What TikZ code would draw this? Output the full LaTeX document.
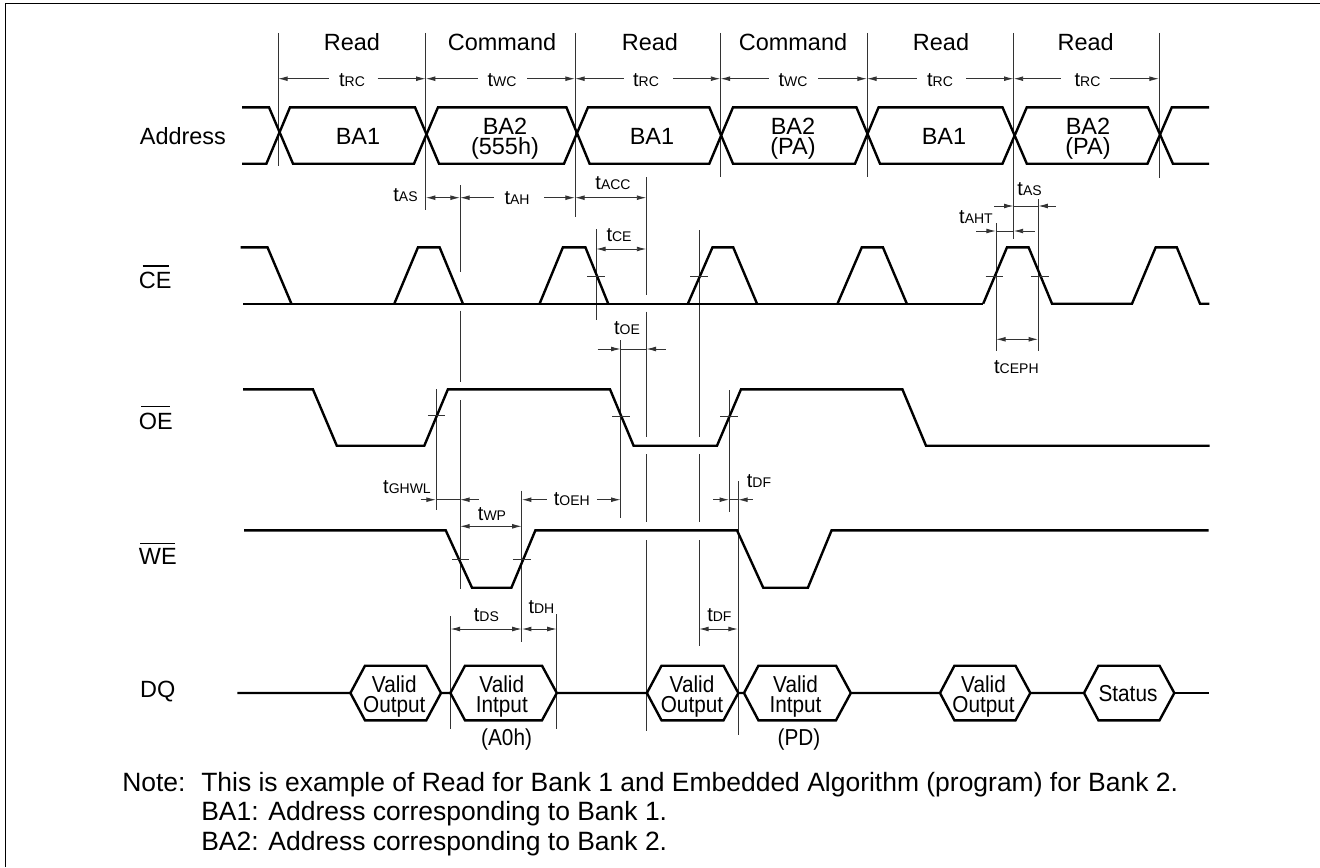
\documentclass[tikz,border=0pt]{standalone}
\usepackage{fontspec}
\setmainfont{Liberation Sans}
\newfontfamily\narrowsans[FakeStretch=0.9]{Liberation Sans}
\usetikzlibrary{arrows.meta}
\newcommand{\tlab}[1]{{\fontsize{15}{15}\selectfont t\fontsize{10.5}{10.5}\selectfont #1}}
\tikzset{
  wave/.style={draw=black,line width=1.8pt,line join=miter},
  guide/.style={draw=black!80,line width=0.7pt},
  tick/.style={draw=black!80,line width=0.7pt},
  span/.style={draw=black!80,line width=0.7pt,>={Latex[length=7.2pt,width=3.6pt]}},
  frameline/.style={draw=black,line width=1.1pt},
  big/.style={inner sep=0pt,font=\fontsize{17.6}{15}\selectfont,align=center},
  sig/.style={big,anchor=west},
  hex/.style={inner sep=0pt,font=\narrowsans\fontsize{17.3}{15}\selectfont,align=center},
  time/.style={inner sep=0pt},
  note/.style={inner sep=0pt,anchor=base west,font=\fontsize{19.85}{19.85}\selectfont},
}
\begin{document}
\begin{tikzpicture}[x=0.75pt,y=-0.75pt]
\useasboundingbox (0,0) rectangle (1320,867);
% frame
\draw[frameline] (5.5,867) -- (5.5,3.5) -- (1320,3.5);

% cycle boundaries
\draw[guide] (278,33) -- (278,165.7);
\draw[guide] (425.7,33) -- (425.7,210);
\draw[guide] (575,33) -- (575,216.7);
\draw[guide] (720.4,33) -- (720.4,176.7);
\draw[guide] (867,33) -- (867,176.7);
\draw[guide] (1013.6,33) -- (1013.6,238.7);
\draw[guide] (1159,33) -- (1159,177.7);

% cycle labels
\node[big] (rd1) at (352,41.7) {Read};
\node[big] (cmd1) at (502,41.7) {Command};
\node[big] (rd2) at (650,41.7) {Read};
\node[big] (cmd2) at (793,41.7) {Command};
\node[big] (rd3) at (941,41.7) {Read};
\node[big] (rd4) at (1085.7,41.7) {Read};

% cycle time spans
\draw[span,<-] (278,78.7) -- (329,78.7);   \draw[span,->] (377.5,78.7) -- (425.7,78.7);
\draw[span,<-] (425.7,78.7) -- (478,78.7); \draw[span,->] (527,78.7) -- (575,78.7);
\draw[span,<-] (575,78.7) -- (624,78.7);   \draw[span,->] (673,78.7) -- (720.4,78.7);
\draw[span,<-] (720.4,78.7) -- (769,78.7); \draw[span,->] (818,78.7) -- (867,78.7);
\draw[span,<-] (867,78.7) -- (917,78.7);   \draw[span,->] (966,78.7) -- (1013.6,78.7);
\draw[span,<-] (1013.6,78.7) -- (1061,78.7); \draw[span,->] (1110,78.7) -- (1159,78.7);
\node[time] (trc1) at (352,80) {\tlab{RC}};
\node[time] (twc1) at (502,80) {\tlab{WC}};
\node[time] (trc2) at (646,80) {\tlab{RC}};
\node[time] (twc2) at (793,80) {\tlab{WC}};
\node[time] (trc3) at (940,80) {\tlab{RC}};
\node[time] (trc4) at (1087.5,80) {\tlab{RC}};

% Address
\node[sig] (addr) at (139.6,136) {Address};
\draw[wave] (242,107.3) -- (269,107.3) -- (293,163.7) -- (414,163.7) -- (438,107.3) -- (566.4,107.3) -- (589.6,163.7) -- (709.3,163.7) -- (733,107.3) -- (856.4,107.3) -- (880,163.7) -- (1002.5,163.7) -- (1026.8,107.3) -- (1148,107.3) -- (1172.9,163.7) -- (1209,163.7);
\draw[wave] (242,163.7) -- (266.4,163.7) -- (290,107.3) -- (415,107.3) -- (439,163.7) -- (564,163.7) -- (588,107.3) -- (709.3,107.3) -- (733,163.7) -- (855,163.7) -- (878.6,107.3) -- (1002.5,107.3) -- (1026.8,163.7) -- (1147.5,163.7) -- (1171.8,107.3) -- (1209,107.3);
\node[big] (ba1a) at (358,136) {BA1};
\node[big] (ba2a) at (505,139) {BA2\\(555h)};
\node[big] (ba1b) at (652,136) {BA1};
\node[big] (ba2b) at (793,139) {BA2\\(PA)};
\node[big] (ba1c) at (944,136) {BA1};
\node[big] (ba2c) at (1088,139) {BA2\\(PA)};

% address timing
\draw[span,<->] (425.7,197.7) -- (460,197.7);
\draw[span,<-] (460,197.7) -- (494,197.7); \draw[span,->] (544,197.7) -- (575,197.7);
\draw[span,<->] (575,197.7) -- (646.4,197.7);
\node[time] (tas1) at (405.5,195) {\tlab{AS}};
\node[time] (tah) at (517,198) {\tlab{AH}};
\node[time] (tacc) at (613,182.7) {\tlab{ACC}};

% long guides
\draw[guide] (460,185) -- (460,272.3) (460,310.7) -- (460,382.3) (460,400) -- (460,589.3);
\draw[guide] (646.4,177.3) -- (646.4,294.7) (646.4,311.7) -- (646.4,436.7) (646.4,454.3) -- (646.4,522.3) (646.4,540) -- (646.4,731);
\draw[guide] (596,229.3) -- (596,320);
\draw[guide] (699,230) -- (699,436.7) (699,454.3) -- (699,522.3) (699,540) -- (699,645.7);
\draw[guide] (620.7,340) -- (620.7,518.3);
\draw[guide] (996,223.3) -- (996,351);
\draw[guide] (1038.2,199) -- (1038.2,351);
\draw[guide] (436,389.3) -- (436,510);
\draw[guide] (729.2,390) -- (729.2,511.7);
\draw[guide] (738,481) -- (738,735);
\draw[guide] (521.8,490.7) -- (521.8,641.7);
\draw[guide] (450.4,616) -- (450.4,729);
\draw[guide] (556.8,614) -- (556.8,729);

% CE
\node[sig] (ce) at (138.6,280.7) {CE};
\draw[frameline,line width=0.8pt] (142.5,266) -- (169.3,266);
\draw[wave] (243,303.7) -- (983.2,303.7);
\draw[wave] (240.7,247.3) -- (267.5,247.3) -- (291.4,303.7);
\draw[wave] (394.3,303.7) -- (418,247.3) -- (439.6,247.3) -- (462.9,303.7);
\draw[wave] (539.6,303.7) -- (562.9,247.3) -- (585.4,247.3) -- (608.2,303.7);
\draw[wave] (687.9,303.7) -- (712.5,247.3) -- (733.2,247.3) -- (757,303.7);
\draw[wave] (837.5,303.7) -- (861.8,247.3) -- (882.9,247.3) -- (906.8,303.7);
\draw[wave] (983.2,303.7) -- (1007,247.3) -- (1028.6,247.3) -- (1052,303.7) -- (1132,303.7) -- (1155.7,247.3) -- (1176.8,247.3) -- (1200,303.7) -- (1209.3,303.7);
\draw[tick] (587,276) -- (605,276);
\draw[tick] (690,276) -- (707.5,276);
\draw[tick] (985.7,276) -- (1003,276);
\draw[tick] (1031.4,276) -- (1049.3,276);

% CE timing
\draw[span,<->] (596,249) -- (646.4,249);
\node[time] (tce) at (619,235) {\tlab{CE}};
\draw[span,->] (994.3,206) -- (1013.6,206);
\draw[span,<-] (1038.2,206) -- (1055.7,206);
\draw[span] (1013.6,206) -- (1038.2,206);
\node[time] (tas2) at (1029.6,189.3) {\tlab{AS}};
\draw[span,->] (976.4,231) -- (996,231);
\draw[span,<-] (1013.6,231) -- (1034.6,231);
\draw[span] (996,231) -- (1013.6,231);
\node[time] (taht) at (976,217.3) {\tlab{AHT}};
\draw[span,<->] (996,339.3) -- (1038.2,339.3);
\node[time] (tceph) at (1016.4,366.7) {\tlab{CEPH}};
\draw[span,->] (597.5,349) -- (620.7,349);
\draw[span,<-] (646.4,349) -- (665.7,349);
\draw[span] (620.7,349) -- (646.4,349);
\node[time] (toe) at (627,328.3) {\tlab{OE}};

% OE
\node[sig] (oe) at (138.6,421) {OE};
\draw[frameline,line width=0.8pt] (141.4,406.7) -- (170.4,406.7);
\draw[wave] (243,389.3) -- (312.9,389.3) -- (336.8,445.7) -- (424.3,445.7) -- (447.9,389.3) -- (610,389.3) -- (633.6,445.7) -- (717,445.7) -- (741,389.3) -- (902.4,389.3) -- (926,445.7) -- (1209.5,445.7);
\draw[tick] (427.9,415.7) -- (445,415.7);
\draw[tick] (612,416) -- (630,416);
\draw[tick] (720,416) -- (737.5,416);

% OE/WE timing
\draw[span,->] (420.7,499.7) -- (436,499.7);
\draw[span,<-] (460,499.7) -- (478.6,499.7);
\draw[span] (436,499.7) -- (460,499.7);
\node[time] (tghwl) at (407,486.7) {\tlab{GHWL}};
\draw[span,<->] (460,526.3) -- (521.8,526.3);
\node[time] (twp) at (492,514.3) {\tlab{WP}};
\draw[span,<-] (521.8,499.7) -- (547,499.7); \draw[span,->] (596.8,499.7) -- (620.7,499.7);
\node[time] (toeh) at (571.8,499.3) {\tlab{OEH}};
\draw[span,->] (713.4,499.7) -- (729.2,499.7);
\draw[span,<-] (738,499.7) -- (753.4,499.7);
\draw[span] (729.2,499.7) -- (738,499.7);
\node[time] (tdf1) at (759,481) {\tlab{DF}};

% WE
\node[sig] (we) at (138.6,556.7) {WE};
\draw[frameline,line width=0.8pt] (140.4,543.3) -- (174.6,543.3);
\draw[wave] (244,530.3) -- (445.7,530.3) -- (472,587.7) -- (511.4,587.7) -- (535.4,530.3) -- (737,530.3) -- (763.2,587.7) -- (807.9,587.7) -- (831.6,530.3) -- (1208.7,530.3);
\draw[tick] (452,559.3) -- (469,559.3);
\draw[tick] (512.9,559.3) -- (530.7,559.3);

% DQ timing
\draw[span,<->] (450.4,629) -- (521.8,629);
\draw[span,<->] (521.8,629) -- (556.8,629);
\draw[span,<->] (699,629) -- (738,629);
\node[time] (tds) at (486.4,615) {\tlab{DS}};
\node[time] (tdh) at (541.4,606.7) {\tlab{DH}};
\node[time] (tdf2) at (719.4,615) {\tlab{DF}};

% DQ
\node[sig] (dq) at (139.8,692) {DQ};
\draw[wave] (237.4,693) -- (350.4,693) -- (365,665.7) -- (426.3,665.7) -- (441,693) -- (426.3,720.3) -- (365,720.3) -- (350.4,693);
\draw[wave] (441,693) -- (450.4,693) -- (465,665.7) -- (542,665.7) -- (556.8,693) -- (542,720.3) -- (465,720.3) -- (450.4,693);
\draw[wave] (556.8,693) -- (646.9,693) -- (661.5,665.7) -- (723.5,665.7) -- (738.3,693) -- (723.5,720.3) -- (661.5,720.3) -- (646.9,693);
\draw[wave] (738.3,693) -- (744,693) -- (758.4,665.7) -- (836,665.7) -- (850.8,693) -- (836,720.3) -- (758.4,720.3) -- (744,693);
\draw[wave] (850.8,693) -- (940,693) -- (954.4,665.7) -- (1015.5,665.7) -- (1030.3,693) -- (1015.5,720.3) -- (954.4,720.3) -- (940,693);
\draw[wave] (1030.3,693) -- (1084,693) -- (1098.4,665.7) -- (1159.5,665.7) -- (1174.3,693) -- (1159.5,720.3) -- (1098.4,720.3) -- (1084,693);
\draw[wave] (1174.3,693) -- (1209,693);
\node[hex] (dq1) at (394.3,697) {Valid\\Output};
\node[hex] (dq2) at (501.8,697) {Valid\\Intput};
\node[hex] (dq3) at (692,697) {Valid\\Output};
\node[hex] (dq4) at (795.5,697) {Valid\\Intput};
\node[hex] (dq5) at (983.5,697) {Valid\\Output};
\node[hex] (dq6) at (1128,693.3) {Status};
\node[hex] (a0h) at (506.6,739.3) {(A0h)};
\node[hex] (pd) at (799,739.3) {(PD)};

% notes
\node[note] (n0) at (122,791.7) {Note:};
\node[note] (n1) at (201,791.7) {This is example of Read for Bank 1 and Embedded Algorithm (program) for Bank 2.};
\node[note] (n2) at (201,820.7) {BA1: Address corresponding to Bank 1.};
\node[note] (n3) at (201,850) {BA2: Address corresponding to Bank 2.};
\end{tikzpicture}
\end{document}
